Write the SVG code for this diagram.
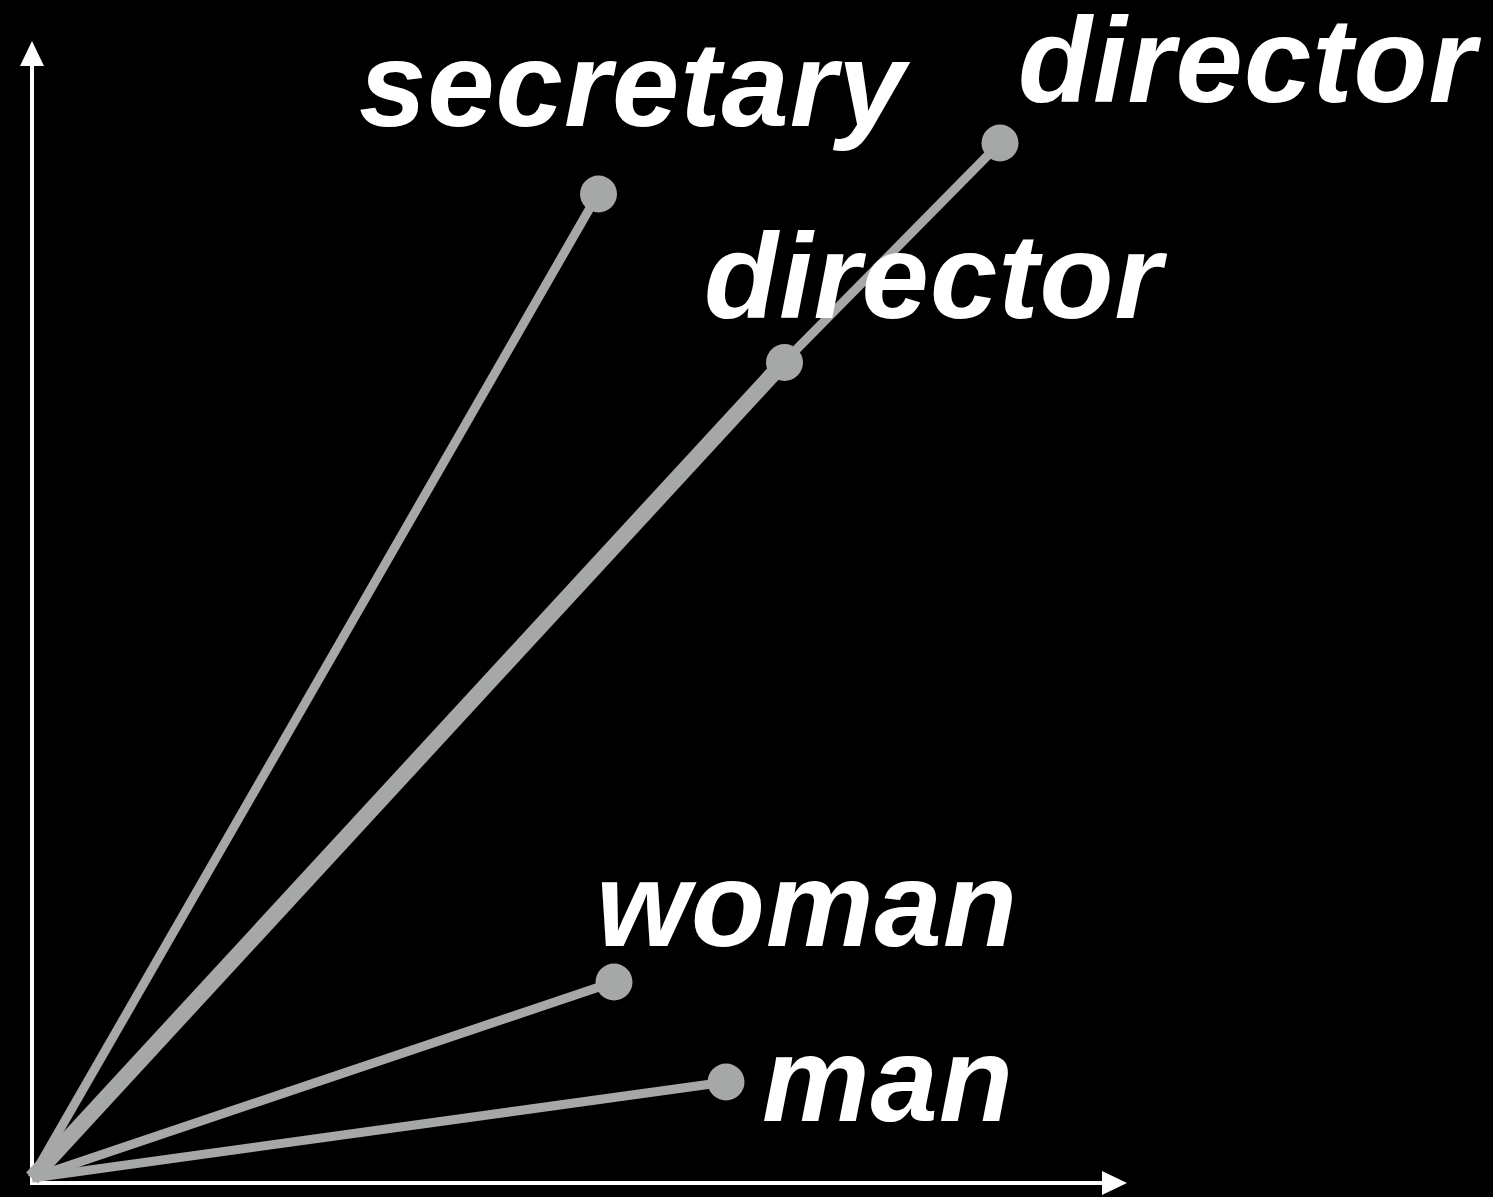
<svg xmlns="http://www.w3.org/2000/svg" width="1493" height="1197" viewBox="0 0 1493 1197">
  <style>
    .axis { stroke: #ffffff; stroke-width: 4; fill: none; }
    .head { fill: #ffffff; }
    .vec { stroke: #a6a8a7; stroke-width: 9; fill: none; stroke-linecap: butt; }
    .thick { stroke-width: 16; }
    .dot { fill: #a6a8a7; }
    .lbl { font-family: "Liberation Sans", Arial, Helvetica, sans-serif; font-weight: bold; font-style: italic; font-size: 121px; fill: #ffffff; letter-spacing: 1px; }
  </style>
  <rect x="0" y="0" width="1493" height="1197" fill="#000000"/>
  <g id="axes">
    <line class="axis" x1="32" y1="1183" x2="32" y2="64"/>
    <polygon class="head" points="20,66 32,41 44,66"/>
    <line class="axis" x1="30" y1="1183" x2="1104" y2="1183"/>
    <polygon class="head" points="1102,1171 1127,1183 1102,1195"/>
  </g>
  <g id="connectors">
    <line class="vec" x1="32" y1="1178" x2="598" y2="194"/>
    <line class="vec" x1="784" y1="362" x2="1000" y2="143"/>
    <line class="vec thick" x1="32" y1="1178" x2="784" y2="362"/>
    <line class="vec" x1="32" y1="1178" x2="614" y2="982"/>
    <line class="vec" x1="32" y1="1178" x2="726" y2="1082"/>
  </g>
  <g id="node-secretary">
    <circle class="dot" cx="598.5" cy="194" r="18.5"/>
    <text class="lbl" x="359" y="126">secretary</text>
  </g>
  <g id="node-director-top">
    <circle class="dot" cx="1000" cy="143" r="18.5"/>
    <text class="lbl" x="1018" y="102">director</text>
  </g>
  <g id="node-director-mid">
    <circle class="dot" cx="784.5" cy="362.5" r="18.5"/>
    <text class="lbl" x="704" y="318">director</text>
  </g>
  <g id="node-woman">
    <circle class="dot" cx="614" cy="982" r="18.5"/>
    <text class="lbl" x="596" y="946">woman</text>
  </g>
  <g id="node-man">
    <circle class="dot" cx="726" cy="1082" r="18.5"/>
    <text class="lbl" x="762" y="1121">man</text>
  </g>
</svg>
